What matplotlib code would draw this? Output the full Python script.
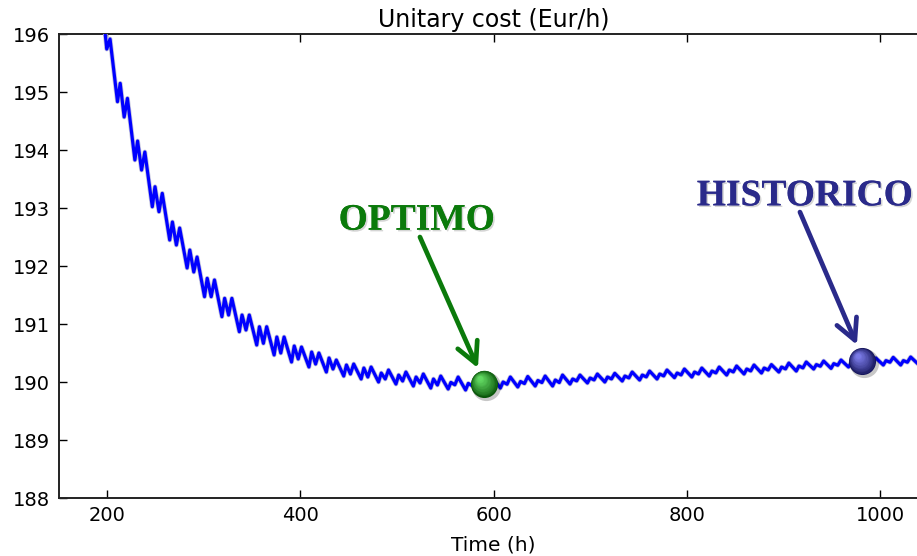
import numpy as np
import matplotlib
matplotlib.use("Agg")
import matplotlib.pyplot as plt
import matplotlib.patheffects as pe
from matplotlib import transforms

# Hourly unitary cost trace (vertices of the oscillating curve)
time_h = [
    193.0, 195.8, 199.9, 203.3,
    211.0, 213.8, 217.9, 221.3,
    229.0, 231.8, 235.9, 239.3,
    247.0, 249.8, 253.9, 257.3,
    265.0, 267.8, 271.9, 275.3,
    283.0, 285.8, 289.9, 293.3,
    301.0, 303.8, 307.9, 311.3,
    319.0, 321.8, 325.9, 329.3,
    337.0, 339.8, 343.9, 347.3,
    355.0, 357.8, 361.9, 365.3,
    373.0, 375.8, 379.9, 383.3,
    391.0, 393.8, 397.9, 401.3,
    409.0, 411.8, 415.9, 419.3,
    427.0, 429.8, 433.9, 437.3,
    445.0, 447.8, 451.9, 455.3,
    463.0, 465.8, 469.9, 473.3,
    481.0, 483.8, 487.9, 491.3,
    499.0, 501.8, 505.9, 509.3,
    517.0, 519.8, 523.9, 527.3,
    535.0, 537.8, 541.9, 545.3,
    553.0, 555.8, 559.9, 563.3,
    571.0, 573.8, 577.9, 581.3,
    589.0, 591.8, 595.9, 599.3,
    607.0, 609.8, 613.9, 617.3,
    625.0, 627.8, 631.9, 635.3,
    643.0, 645.8, 649.9, 653.3,
    661.0, 663.8, 667.9, 671.3,
    679.0, 681.8, 685.9, 689.3,
    697.0, 699.8, 703.9, 707.3,
    715.0, 717.8, 721.9, 725.3,
    733.0, 735.8, 739.9, 743.3,
    751.0, 753.8, 757.9, 761.3,
    769.0, 771.8, 775.9, 779.3,
    787.0, 789.8, 793.9, 797.3,
    805.0, 807.8, 811.9, 815.3,
    823.0, 825.8, 829.9, 833.3,
    841.0, 843.8, 847.9, 851.3,
    859.0, 861.8, 865.9, 869.3,
    877.0, 879.8, 883.9, 887.3,
    895.0, 897.8, 901.9, 905.3,
    913.0, 915.8, 919.9, 923.3,
    931.0, 933.8, 937.9, 941.3,
    949.0, 951.8, 955.9, 959.3,
    967.0, 969.8, 973.9, 977.3,
    985.0, 987.8, 991.9, 995.3,
    1003.0, 1005.8, 1009.9, 1013.3,
    1021.0, 1023.8, 1027.9, 1031.3,
    1039.0, 1041.8, 1045.9, 1049.3,
    1057.0,
]

cost_eur_h = [
    196.103, 196.414, 195.741, 195.914,
    194.833, 195.150, 194.569, 194.891,
    193.828, 194.155, 193.655, 193.966,
    193.022, 193.367, 192.936, 193.253,
    192.448, 192.759, 192.362, 192.655,
    191.966, 192.276, 191.897, 192.155,
    191.471, 191.788, 191.471, 191.759,
    191.126, 191.443, 191.155, 191.443,
    190.867, 191.155, 190.897, 191.155,
    190.638, 190.953, 190.667, 190.953,
    190.466, 190.776, 190.500, 190.776,
    190.345, 190.621, 190.397, 190.603,
    190.259, 190.517, 190.310, 190.500,
    190.172, 190.414, 190.224, 190.379,
    190.103, 190.293, 190.138, 190.310,
    190.052, 190.241, 190.086, 190.258,
    190.000, 190.155, 190.052, 190.207,
    189.965, 190.120, 190.017, 190.172,
    189.931, 190.086, 189.983, 190.138,
    189.896, 190.052, 189.948, 190.103,
    189.879, 189.993, 189.952, 190.086,
    189.862, 189.976, 189.934, 190.069,
    189.879, 189.983, 189.945, 190.069,
    189.896, 190.000, 189.962, 190.086,
    189.914, 190.008, 189.974, 190.095,
    189.931, 190.026, 189.991, 190.103,
    189.931, 190.034, 189.991, 190.120,
    189.965, 190.052, 190.019, 190.120,
    189.983, 190.069, 190.036, 190.138,
    190.000, 190.086, 190.053, 190.150,
    190.017, 190.103, 190.070, 190.172,
    190.034, 190.120, 190.088, 190.189,
    190.052, 190.138, 190.105, 190.207,
    190.075, 190.155, 190.122, 190.224,
    190.086, 190.172, 190.139, 190.241,
    190.103, 190.189, 190.157, 190.258,
    190.120, 190.207, 190.174, 190.276,
    190.138, 190.224, 190.191, 190.293,
    190.155, 190.241, 190.208, 190.300,
    190.172, 190.258, 190.226, 190.327,
    190.189, 190.276, 190.243, 190.345,
    190.224, 190.300, 190.272, 190.362,
    190.235, 190.317, 190.289, 190.379,
    190.258, 190.334, 190.307, 190.396,
    190.276, 190.352, 190.324, 190.414,
    190.293, 190.369, 190.341, 190.425,
    190.293, 190.369, 190.341, 190.431,
    190.310, 190.386, 190.358, 190.448,
    190.310,
]

# Highlighted operating points
point_names = ["OPTIMO", "HISTORICO"]
point_time = [590.0, 981.0]
point_cost = [189.97, 190.36]
point_dark = ["#0a560a", "#15155a"]
point_light = ["#62d862", "#7a7ae6"]
label_colors = ["#0b7a0b", "#2a2a8a"]
label_pos = [(520.7, 192.79), (922.0, 193.21)]
arrow_start = [(523.8, 192.50), (916.8, 192.93)]
arrow_tip = [(583.8, 190.24), (975.7, 190.64)]

x_ticks = [200, 400, 600, 800, 1000]
y_ticks = [188, 189, 190, 191, 192, 193, 194, 195, 196]

fig = plt.figure(figsize=(9.17, 5.56), dpi=100)
ax = fig.add_axes([0.0638, 0.1043, 0.949, 0.8345])

ax.plot(time_h, cost_eur_h, color="#0000ff", lw=2.3, zorder=3,
        solid_joinstyle="round", solid_capstyle="round",
        path_effects=[pe.Stroke(linewidth=3.4, foreground="#c4c4dc",
                                joinstyle="round"), pe.Normal()])

ax.set_xlim(150, 1050)
ax.set_ylim(188, 196)
ax.set_xticks(x_ticks)
ax.set_yticks(y_ticks)
ax.tick_params(direction="in", top=True, right=True, length=6, width=1,
               labelsize=14, pad=6)
for sp in ax.spines.values():
    sp.set_linewidth(1.4)
    sp.set_color("#222222")

ax.set_title("Unitary cost (Eur/h)", fontsize=17, pad=5)
ax.set_xlabel("Time (h)", fontsize=14.5, labelpad=7)


def sphere(x, y, dark, light, size=19.5):
    """Shaded ball marker built from stacked discs."""
    shadow = transforms.offset_copy(ax.transData, fig=fig, x=1.2, y=-1.6, units="points")
    ax.scatter([x], [y], s=(size + 1.5) ** 2, color="#000000", alpha=0.22,
               transform=shadow, zorder=5, linewidths=0)
    c0 = np.array(matplotlib.colors.to_rgb(dark))
    c1 = np.array(matplotlib.colors.to_rgb(light))
    n = 14
    for i in range(n):
        t = i / (n - 1)
        d = size * (1 - 0.82 * t)
        col = c0 * (1 - t ** 0.8) + c1 * t ** 0.8
        off = transforms.offset_copy(ax.transData, fig=fig,
                                     x=-0.16 * size * t, y=0.2 * size * t, units="points")
        ax.scatter([x], [y], s=d ** 2, color=col, transform=off,
                   zorder=6 + i * 0.01, linewidths=0)


for name, tx, ty, dk, lt, lc, lp, a0, a1 in zip(
        point_names, point_time, point_cost, point_dark, point_light,
        label_colors, label_pos, arrow_start, arrow_tip):
    ax.annotate("", xy=a1, xytext=a0, zorder=7,
                arrowprops=dict(arrowstyle="->,head_length=0.62,head_width=0.32",
                                color=lc, lw=3.4, mutation_scale=24,
                                shrinkA=0, shrinkB=0, capstyle="round",
                                joinstyle="round"))
    sphere(tx, ty, dk, lt)
    ax.text(lp[0], lp[1], name, color=lc, fontsize=27, fontweight="bold",
            family="Liberation Serif", ha="center", va="center", zorder=8,
            path_effects=[pe.withSimplePatchShadow(offset=(1.2, -1.2),
                                                   shadow_rgbFace="#888888", alpha=0.35),
                          pe.Normal()])

fig.savefig("out.png", dpi=100)
